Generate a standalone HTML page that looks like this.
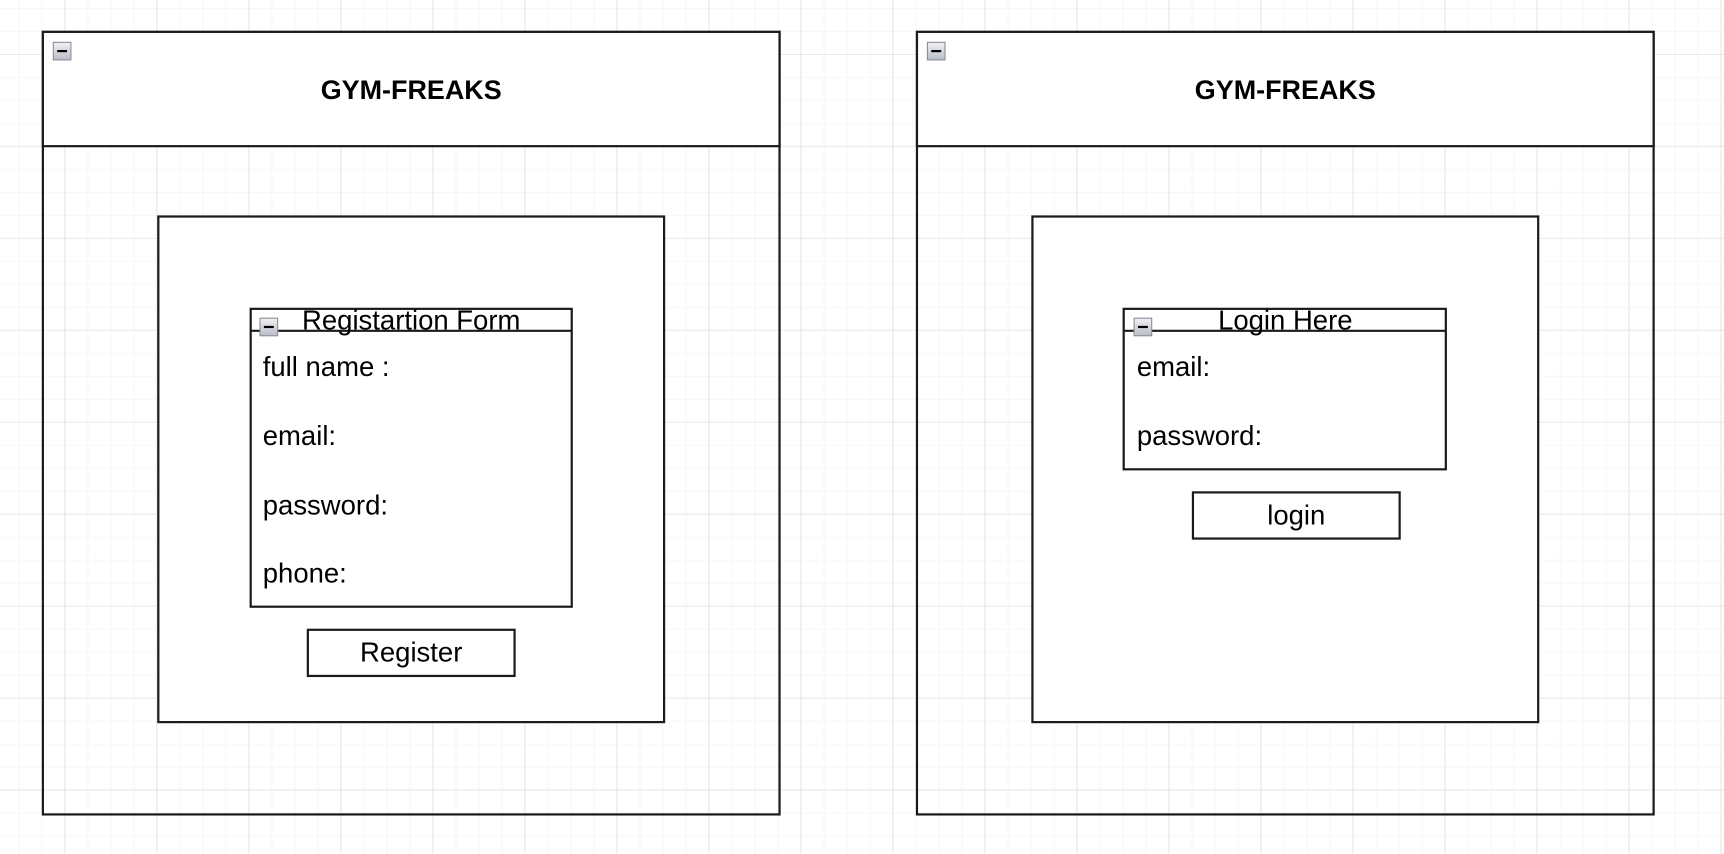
<!DOCTYPE html>
<html><head><meta charset="utf-8"><style>
html,body{margin:0;padding:0;background:#fff;width:1724px;height:854px;overflow:hidden}
svg{display:block}
text{font-family:"Liberation Sans",Arial,sans-serif;fill:#000}
</style></head><body>
<svg width="1724" height="854" viewBox="0 0 1568 777" preserveAspectRatio="none" xmlns="http://www.w3.org/2000/svg">
<defs>
<pattern id="minor" x="17" y="7.3" width="20.92" height="20.92" patternUnits="userSpaceOnUse">
<path d="M0 0H20.92M0 0V20.92" stroke="#efefef" stroke-width="1" fill="none"/>
</pattern>
<pattern id="major" x="58.8" y="49.1" width="83.68" height="83.68" patternUnits="userSpaceOnUse">
<path d="M0 0H83.68M0 0V83.68" stroke="#d4d4d4" stroke-width="1" fill="none"/>
</pattern>
<linearGradient id="ig" x1="0" y1="0" x2="0" y2="1"><stop offset="0" stop-color="#f2f2f4"/><stop offset="1" stop-color="#b8bcc6"/></linearGradient>
<g id="icon"><rect x="0.5" y="0.5" width="16" height="16" fill="url(#ig)" stroke="#8a8f9a"/><rect x="4" y="7.5" width="9" height="2" fill="#000"/></g>
</defs>
<rect width="1568" height="777" fill="url(#minor)"/>
<rect width="1568" height="777" fill="url(#major)"/>
<g stroke="#1a1a1a" stroke-width="2">
<rect x="39" y="29" width="670" height="712" fill="none"/>
<rect x="39" y="29" width="670" height="104" fill="#fff"/>
<rect x="144" y="197" width="460" height="460" fill="#fff"/>
<rect x="228" y="281" width="292" height="271" fill="#fff"/><line x1="228" y1="301" x2="520" y2="301"/>
<rect x="280" y="573" width="188" height="42" fill="#fff"/>
<rect x="834" y="29" width="670" height="712" fill="none"/>
<rect x="834" y="29" width="670" height="104" fill="#fff"/>
<rect x="939" y="197" width="460" height="460" fill="#fff"/>
<rect x="1022" y="281" width="293" height="146" fill="#fff"/><line x1="1022" y1="301" x2="1315" y2="301"/>
<rect x="1085" y="448" width="188" height="42" fill="#fff"/>
</g>
<use href="#icon" x="48" y="38"/><use href="#icon" x="843" y="38"/>
<use href="#icon" x="236" y="289"/><use href="#icon" x="1031" y="289"/>
<text x="374" y="90" font-size="24.5" font-weight="bold" text-anchor="middle">GYM-FREAKS</text>
<text x="1169" y="90" font-size="24.5" font-weight="bold" text-anchor="middle">GYM-FREAKS</text>
<text x="374" y="300" font-size="25" text-anchor="middle">Registartion Form</text>
<text x="1169" y="300" font-size="25" text-anchor="middle">Login Here</text>
<g font-size="25">
<text x="239" y="342">full name :</text>
<text x="239" y="405">email:</text>
<text x="239" y="468">password:</text>
<text x="239" y="530">phone:</text>
<text x="374" y="602" text-anchor="middle">Register</text>
<text x="1034" y="342">email:</text>
<text x="1034" y="405">password:</text>
<text x="1179" y="477" text-anchor="middle">login</text>
</g>
</svg>
</body></html>
